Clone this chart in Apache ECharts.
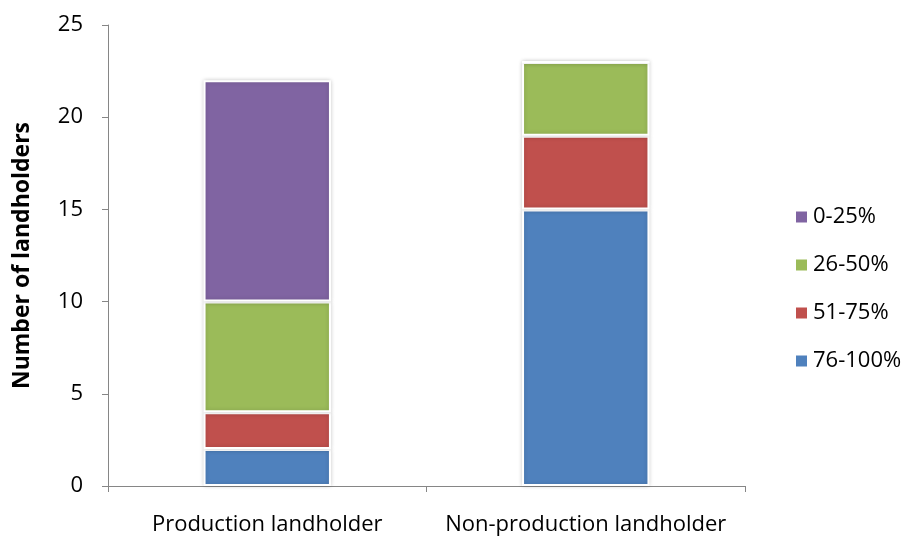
<!DOCTYPE html>
<html>
<head>
<meta charset="utf-8">
<script src="https://cdn.jsdelivr.net/npm/echarts@6/dist/echarts.min.js"></script>
<style>
  html, body { margin: 0; padding: 0; background: #fff; }
  #chart { width: 906px; height: 537px; }
</style>
</head>
<body>
<div id="chart"></div>
<script>
// Landholder groups along the x axis
const categories = ['Production landholder', 'Non-production landholder'];

// Counts per share band (stacked bottom to top)
const band76to100 = [2, 15];
const band51to75 = [2, 4];
const band26to50 = [6, 4];
const band0to25 = [12, 0];

const yTicks = [0, 5, 10, 15, 20, 25];

const FONT = '"Open Sans", "Liberation Sans", sans-serif';

function bandSeries(name, data, color) {
  return {
    name: name,
    type: 'bar',
    stack: 'total',
    barWidth: '40%',
    data: data,
    itemStyle: {
      color: color,
      borderColor: '#ffffff',
      borderWidth: 2,
      shadowColor: 'rgba(0,0,0,0.18)',
      shadowBlur: 4,
      shadowOffsetX: 0,
      shadowOffsetY: 0
    }
  };
}

const chart = echarts.init(document.getElementById('chart'), null, { renderer: 'canvas' });
chart.setOption({
  animation: false,
  backgroundColor: '#ffffff',
  grid: { left: 108, top: 25, right: 161, bottom: 51, containLabel: false },
  legend: {
    orient: 'vertical',
    left: 789,
    top: 201,
    itemWidth: 13,
    itemHeight: 13,
    itemGap: 26,
    icon: 'rect',
    data: ['0-25%', '26-50%', '51-75%', '76-100%'],
    textStyle: { fontFamily: FONT, fontSize: 22, color: '#000' }
  },
  xAxis: {
    type: 'category',
    data: categories,
    boundaryGap: true,
    axisLine: { lineStyle: { color: '#868686', width: 1 } },
    axisTick: { show: true, alignWithLabel: false, interval: 0, length: 6, lineStyle: { color: '#868686' } },
    axisLabel: { interval: 0, hideOverlap: false, fontFamily: FONT, fontSize: 22, color: '#000', margin: 28 },
    splitLine: { show: false }
  },
  yAxis: {
    type: 'value',
    min: yTicks[0],
    max: yTicks[yTicks.length - 1],
    interval: 5,
    name: 'Number of landholders',
    nameLocation: 'middle',
    nameGap: 74,
    nameRotate: 90,
    nameTextStyle: { fontFamily: FONT, fontSize: 23, fontWeight: 'bold', color: '#000' },
    axisLine: { show: true, lineStyle: { color: '#868686', width: 1 } },
    axisTick: { show: true, length: 6, lineStyle: { color: '#868686' } },
    axisLabel: { fontFamily: FONT, fontSize: 22, color: '#000', margin: 25 },
    splitLine: { show: false }
  },
  series: [
    bandSeries('76-100%', band76to100, '#4F81BD'),
    bandSeries('51-75%', band51to75, '#C0504D'),
    bandSeries('26-50%', band26to50, '#9BBB59'),
    bandSeries('0-25%', band0to25, '#8064A2')
  ]
});
</script>
</body>
</html>
